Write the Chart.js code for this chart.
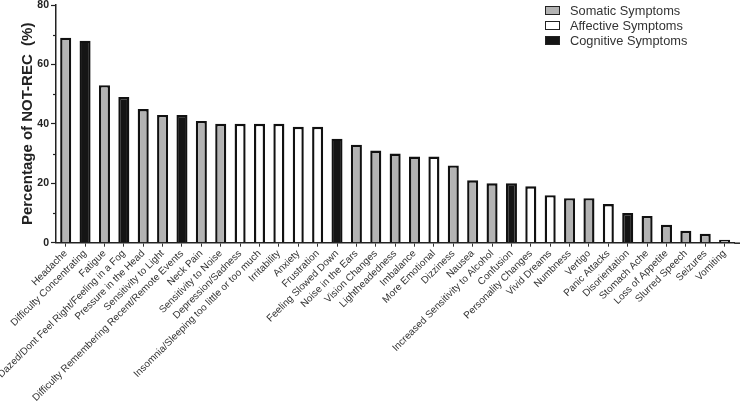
<!DOCTYPE html>
<html>
<head>
<meta charset="utf-8">
<script src="https://cdn.jsdelivr.net/npm/chart.js@4.4.1/dist/chart.umd.min.js"></script>
<style>
  html, body { margin: 0; padding: 0; background: #fff; }
  #wrap { position: relative; width: 741px; height: 402px; }
  canvas { position: absolute; left: 0; top: 0; }
  .leg { position: absolute; left: 545px; height: 15px; display: flex; align-items: center;
         font: 12.8px "Liberation Sans", Arial, sans-serif; color: #333; white-space: nowrap; }
  .leg .box { width: 13px; height: 7px; border: 1.5px solid #222; margin-right: 10px; }
</style>
</head>
<body>
<div id="wrap">
  <canvas id="c" width="741" height="402"></canvas>
  <div class="leg" style="top:3px"><span class="box" style="background:#b3b3b3"></span>Somatic Symptoms</div>
  <div class="leg" style="top:18px"><span class="box" style="background:#ffffff"></span>Affective Symptoms</div>
  <div class="leg" style="top:33px"><span class="box" style="background:#151515"></span>Cognitive Symptoms</div>
</div>
<script>
const categories = [
  "Headache", "Difficulty Concentrating", "Fatigue", "Dazed/Dont Feel Right/Feeling in a Fog",
  "Pressure in the Head", "Sensitivity to Light", "Difficulty Remembering Recent/Remote Events",
  "Neck Pain", "Sensitivity to Noise", "Depression/Sadness", "Insomnia/Sleeping too little or too much",
  "Irritability", "Anxiety", "Frustration", "Feeling Slowed Down", "Noise in the Ears",
  "Vision Changes", "Lightheadedness", "Imbalance", "More Emotional", "Dizziness", "Nausea",
  "Increased Sensitivity to Alcohol", "Confusion", "Personality Changes", "Vivid Dreams",
  "Numbness", "Vertigo", "Panic Attacks", "Disorientation", "Stomach Ache", "Loss of Appetite",
  "Slurred Speech", "Seizures", "Vomiting"
];
const values = [
  69, 68, 53, 49, 45, 43, 43, 41, 40, 40, 40, 40, 39, 39, 35, 33, 31, 30, 29, 29,
  26, 21, 20, 20, 19, 16, 15, 15, 13, 10, 9, 6, 4, 3, 1
];
// S = somatic, A = affective, C = cognitive
const symptomTypes = [
  "S","C","S","C","S","S","C","S","S","A","A","A","A","A","C","S","S","S","S","A",
  "S","S","S","C","A","A","S","S","A","C","S","S","S","S","S"
];
const typeColors = { S: "#b3b3b3", A: "#ffffff", C: "#151515" };
const yTicks = [0, 20, 40, 60, 80];
const yMinorTicks = [10, 30, 50, 70];

const axisExtrasPlugin = {
  id: 'axisExtras',
  afterDraw(chart) {
    const y = chart.scales.y;
    const ctx = chart.ctx;
    const area = chart.chartArea;
    ctx.save();
    ctx.strokeStyle = '#222';
    ctx.lineWidth = 1.2;
    yMinorTicks.forEach(v => {
      const py = Math.round(y.getPixelForValue(v)) + 0.5;
      ctx.beginPath();
      ctx.moveTo(y.right - 3, py);
      ctx.lineTo(y.right, py);
      ctx.stroke();
    });
    // x axis line continues slightly past the last category
    ctx.lineWidth = 1.5;
    ctx.beginPath();
    ctx.moveTo(area.right, area.bottom + 0.5);
    ctx.lineTo(740, area.bottom + 0.5);
    ctx.stroke();
    ctx.restore();
  }
};

new Chart(document.getElementById('c'), {
  type: 'bar',
  data: {
    labels: categories,
    datasets: [{
      data: values,
      backgroundColor: symptomTypes.map(t => typeColors[t]),
      borderColor: '#111',
      borderWidth: 2.4,
      barPercentage: 0.57,
      categoryPercentage: 1.0
    }]
  },
  options: {
    responsive: false,
    animation: false,
    devicePixelRatio: 1,
    layout: { padding: { top: 5, right: 6.7, left: 0, bottom: 0 } },
    plugins: { legend: { display: false }, tooltip: { enabled: false } },
    scales: {
      x: {
        grid: { display: true, drawOnChartArea: false, offset: false, tickLength: 4, tickColor: '#333', tickWidth: 1 },
        border: { color: '#222', width: 1.5 },
        ticks: {
          autoSkip: false, maxRotation: 45, minRotation: 45, padding: 1,
          font: { family: '"Liberation Sans", Arial, sans-serif', size: 10 }, color: '#333'
        },
        afterFit(s) { s.height = 159.3; s.paddingLeft = 0; s.paddingRight = 0; }
      },
      y: {
        min: 0, max: 80,
        afterBuildTicks(s) { s.ticks = yTicks.map(v => ({ value: v })); },
        grid: { display: true, drawOnChartArea: false, tickLength: 5, tickColor: '#222', tickWidth: 1.2 },
        border: { color: '#222', width: 1.5 },
        ticks: {
          padding: 2, color: '#222',
          font: { family: '"Liberation Sans", Arial, sans-serif', size: 10.5, weight: 'bold' }
        },
        title: {
          display: true, text: 'Percentage of NOT-REC  (%)', color: '#222',
          font: { family: '"Liberation Sans", Arial, sans-serif', size: 15, weight: 'bold' },
          padding: { top: 18.5, bottom: 0 }
        },
        afterFit(s) { s.width = 56; s.paddingTop = 0; s.paddingBottom = 0; }
      }
    }
  },
  plugins: [axisExtrasPlugin]
});
</script>
</body>
</html>
